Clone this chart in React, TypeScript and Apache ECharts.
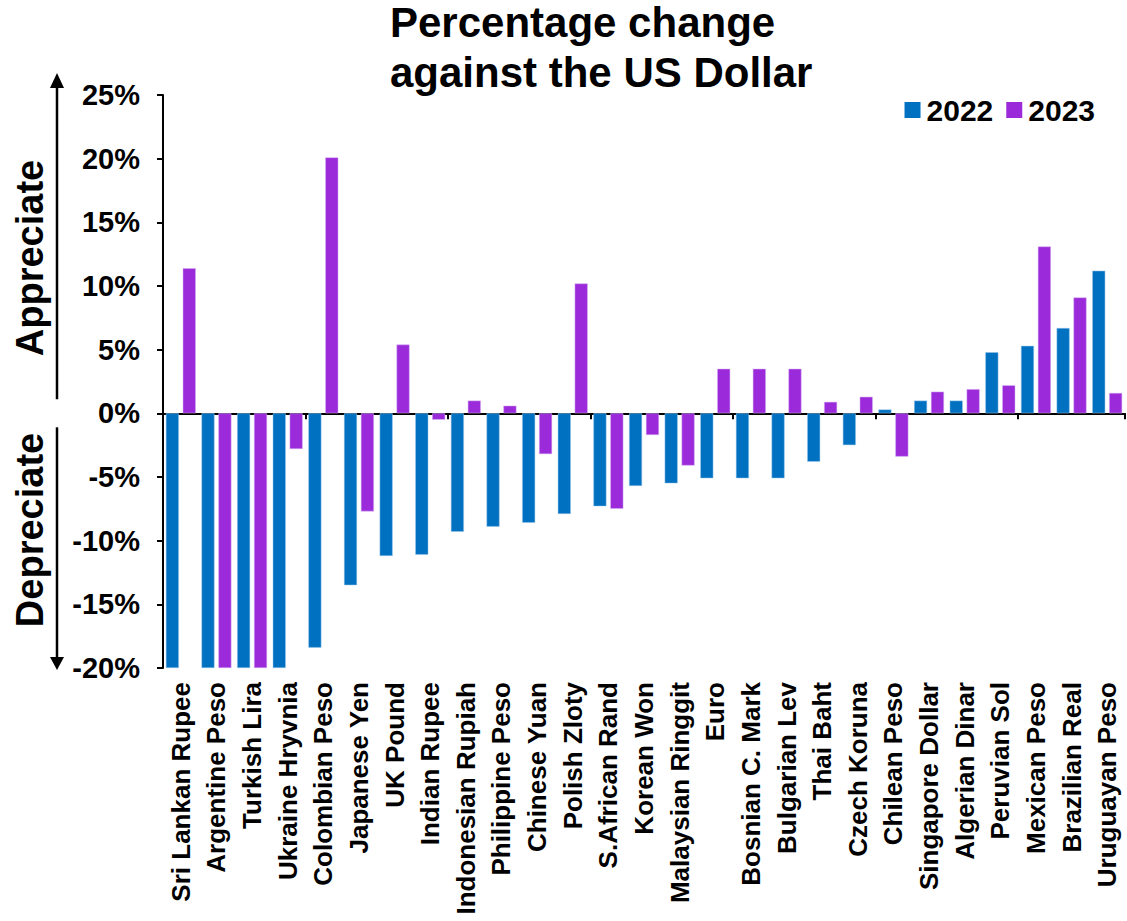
import React, { useEffect, useRef } from "react";
import * as echarts from "echarts";

const categories = [
  "Sri Lankan Rupee", "Argentine Peso", "Turkish Lira", "Ukraine Hryvnia", "Colombian Peso",
  "Japanese Yen", "UK Pound", "Indian Rupee", "Indonesian Rupiah", "Philippine Peso",
  "Chinese Yuan", "Polish Zloty", "S.African Rand", "Korean Won", "Malaysian Ringgit",
  "Euro", "Bosnian C. Mark", "Bulgarian Lev", "Thai Baht", "Czech Koruna",
  "Chilean Peso", "Singapore Dollar", "Algerian Dinar", "Peruvian Sol", "Mexican Peso",
  "Brazilian Real", "Uruguayan Peso",
];

const values2022 = [
  -20, -20, -20, -20, -18.4,
  -13.5, -11.2, -11.1, -9.3, -8.9,
  -8.6, -7.9, -7.3, -5.7, -5.5,
  -5.1, -5.1, -5.1, -3.8, -2.5,
  0.3, 1.0, 1.0, 4.8, 5.3,
  6.7, 11.2,
];

const values2023 = [
  11.4, -20, -20, -2.8, 20.1,
  -7.7, 5.4, -0.5, 1.0, 0.6,
  -3.2, 10.2, -7.5, -1.7, -4.1,
  3.5, 3.5, 3.5, 0.9, 1.3,
  -3.4, 1.7, 1.9, 2.2, 13.1,
  9.1, 1.6,
];

const seriesNames = ["2022", "2023"];
const yTicks = { min: -20, max: 25, interval: 5 };

const BLUE = "#0070C0";
const PURPLE = "#9B2ADB";
const FONT = "Liberation Sans, Arial, sans-serif";

export default function App() {
  const ref = useRef<HTMLDivElement>(null);

  useEffect(() => {
    document.body.style.margin = "0";
    if (!ref.current) return;
    const chart = echarts.init(ref.current, undefined, { renderer: "svg" });
    const axisTop = 95;
    const axisBottom = 668;
    const zeroY = axisBottom - (0 - yTicks.min) / (yTicks.max - yTicks.min) * (axisBottom - axisTop);
    const ax = 57;
    chart.setOption({
      animation: false,
      backgroundColor: "#ffffff",
      title: {
        text: "Percentage change\nagainst the US Dollar",
        left: 390,
        top: -3,
        padding: 0,
        textStyle: { fontFamily: FONT, fontWeight: "bold", fontSize: 42, lineHeight: 50, color: "#000" },
      },
      legend: {
        data: [
          { name: seriesNames[0], itemStyle: { color: BLUE, borderWidth: 0 } },
          { name: seriesNames[1], itemStyle: { color: PURPLE, borderWidth: 0 } },
        ],
        right: 32,
        top: 95,
        padding: 0,
        itemWidth: 16,
        itemHeight: 16,
        itemGap: 13,
        icon: "rect",
        textStyle: { fontFamily: FONT, fontWeight: "bold", fontSize: 30, color: "#000", padding: [0, 0, 0, 1] },
      },
      grid: { left: 163, right: 2, top: axisTop, bottom: 921 - axisBottom, containLabel: false },
      xAxis: [
        {
          type: "category",
          data: categories,
          position: "bottom",
          axisLine: { show: false, onZero: false },
          axisTick: { show: false },
          axisLabel: {
            rotate: 90,
            interval: 0,
            margin: 14,
            fontFamily: FONT,
            fontWeight: "bold",
            fontSize: 26,
            color: "#000",
          },
        },
        {
          type: "category",
          data: categories,
          position: "bottom",
          axisLine: { show: true, onZero: true, lineStyle: { color: "#000", width: 2 } },
          axisTick: { show: true, inside: false, length: 6, lineStyle: { color: "#000", width: 2 } },
          axisLabel: { show: false },
        },
      ],
      yAxis: {
        type: "value",
        min: yTicks.min,
        max: yTicks.max,
        interval: yTicks.interval,
        splitLine: { show: false },
        axisLine: { show: true, lineStyle: { color: "#000", width: 2 } },
        axisTick: { show: true, length: 6, lineStyle: { color: "#000", width: 2 } },
        axisLabel: {
          formatter: "{value}%",
          margin: 23,
          fontFamily: FONT,
          fontWeight: "bold",
          fontSize: 29,
          color: "#000",
        },
      },
      series: [
        {
          name: seriesNames[0],
          type: "bar",
          data: values2022,
          itemStyle: { color: BLUE, borderColor: "#9cc8ec", borderWidth: 0.5 },
          barWidth: 13,
          barGap: "30%",
        },
        {
          name: seriesNames[1],
          type: "bar",
          data: values2023,
          itemStyle: { color: PURPLE, borderColor: "#d5b0f0", borderWidth: 0.5 },
          barWidth: 13,
          barGap: "30%",
        },
      ],
      graphic: [
        { type: "line", shape: { x1: ax, y1: 82, x2: ax, y2: zeroY - 14 }, style: { stroke: "#000", lineWidth: 2.5 } },
        { type: "polygon", shape: { points: [[ax, 73], [ax - 7, 88], [ax + 7, 88]] }, style: { fill: "#000" } },
        { type: "line", shape: { x1: ax, y1: zeroY + 14, x2: ax, y2: axisBottom - 6 }, style: { stroke: "#000", lineWidth: 2.5 } },
        { type: "polygon", shape: { points: [[ax, axisBottom + 2], [ax - 7, axisBottom - 11], [ax + 7, axisBottom - 11]] }, style: { fill: "#000" } },
        {
          type: "text",
          x: 30,
          y: 258,
          rotation: Math.PI / 2,
          style: { text: "Appreciate", font: `bold 38px ${FONT}`, fill: "#000", align: "center", verticalAlign: "middle" },
        },
        {
          type: "text",
          x: 30,
          y: 530,
          rotation: Math.PI / 2,
          style: { text: "Depreciate", font: `bold 38px ${FONT}`, fill: "#000", align: "center", verticalAlign: "middle" },
        },
      ],
    });
    return () => chart.dispose();
  }, []);

  return <div ref={ref} style={{ position: "absolute", left: 0, top: 0, width: 1127, height: 921 }} />;
}
